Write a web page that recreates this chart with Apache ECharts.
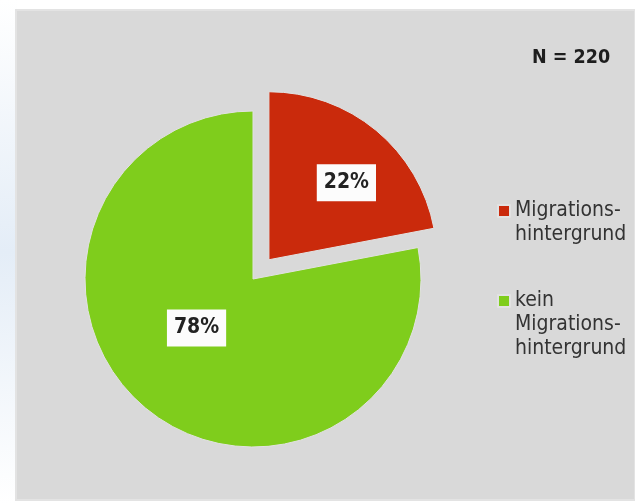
<!DOCTYPE html>
<html><head><meta charset="utf-8">
<script src="https://cdn.jsdelivr.net/npm/echarts@6/dist/echarts.min.js"></script>
<style>html,body{margin:0;padding:0;background:#fff}#c{width:635px;height:504px}</style>
</head><body><div id="c"></div>
<script>
const categories = ['Migrations-\nhintergrund', 'kein\nMigrations-\nhintergrund'];
const values = [22, 78];
const sampleLabel = 'N = 220';
const colors = ['#ca2a0c', '#7fcd1c'];
const FONT = "'DejaVu Sans Condensed', 'DejaVu Sans', sans-serif";

const chart = echarts.init(document.getElementById('c'), null, {renderer: 'canvas'});
const labelOffsets = [[22, -10], [-1, -18]];
const legendSpacers = [1, 2];
const legendTops = [175, 241];

chart.setOption({
  animation: false,
  backgroundColor: '#ffffff',
  graphic: [
    {type: 'rect', z: -10, shape: {x: 0, y: 0, width: 17, height: 504},
     style: {fill: new echarts.graphic.LinearGradient(0, 0, 0, 1, [
       {offset: 0, color: '#ffffff'}, {offset: 0.5, color: '#e4edf7'}, {offset: 1, color: '#ffffff'}])}},
    {type: 'rect', z: -9, shape: {x: 16, y: 10, width: 619, height: 490},
     style: {fill: '#d9d9d9', stroke: '#e3e3e3', lineWidth: 2}}
  ],
  title: {
    text: sampleLabel, left: 532, top: 48, padding: 0,
    textStyle: {fontFamily: FONT, fontSize: 19.5, fontWeight: 'bold', color: '#1e1e1e'}
  },
  legend: categories.map((c, i) => ({
    data: [{name: c}],
    orient: 'vertical', left: 497, top: legendTops[i], padding: 0,
    itemWidth: 12, itemHeight: 12, icon: 'rect', selectedMode: false,
    formatter: (name) => ' \n'.repeat(legendSpacers[i]) + name,
    textStyle: {fontFamily: FONT, fontSize: 21, lineHeight: 24, color: '#333333'}
  })),
  series: [{
    type: 'pie',
    center: [253, 279],
    radius: 168,
    startAngle: 90,
    clockwise: true,
    selectedMode: 'single',
    selectedOffset: 25,
    emphasis: {disabled: true},
    itemStyle: {borderColor: '#e2e2e2', borderWidth: 1},
    label: {
      show: true, position: 'inside', formatter: '{c}%',
      fontFamily: FONT, fontSize: 21, fontWeight: 'bold', color: '#222222',
      backgroundColor: '#fcfcfc', padding: [8, 7, 8, 7]
    },
    labelLine: {show: false},
    data: categories.map((c, i) => ({
      name: c, value: values[i], selected: i === 0,
      itemStyle: {color: colors[i]},
      label: {offset: labelOffsets[i]},
      select: {label: {offset: labelOffsets[i]}}
    }))
  }]
});
</script></body></html>
